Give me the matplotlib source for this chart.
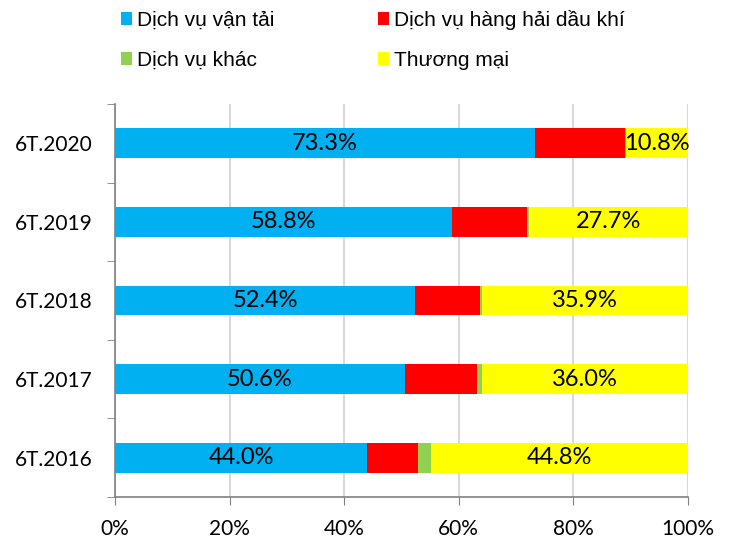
import numpy as np
import matplotlib.pyplot as plt

# Data
periods = ["6T.2016", "6T.2017", "6T.2018", "6T.2019", "6T.2020"]
van_tai = [44.0, 50.6, 52.4, 58.8, 73.3]
hang_hai = [8.8, 12.5, 11.3, 13.1, 15.7]
khac = [2.4, 0.9, 0.4, 0.4, 0.2]
thuong_mai = [44.8, 36.0, 35.9, 27.7, 10.8]

series_names = ["Dịch vụ vận tải", "Dịch vụ hàng hải dầu khí", "Dịch vụ khác", "Thương mại"]
colors = ["#00B0F0", "#FF0000", "#92D050", "#FFFF00"]

fig = plt.figure(figsize=(7.31, 5.43), dpi=100)
ax = fig.add_axes([115/731, 1-497/543, (688-115)/731, (497-104)/543])

y = np.arange(len(periods))
left = np.zeros(len(periods))
bars = []
for vals, name, c in zip([van_tai, hang_hai, khac, thuong_mai], series_names, colors):
    b = ax.barh(y, vals, left=left, height=0.38, color=c, label=name, zorder=3)
    bars.append(b)
    left = left + np.array(vals)

# labels on blue and yellow
for b, vals in [(bars[0], van_tai), (bars[3], thuong_mai)]:
    for rect, v in zip(b, vals):
        ax.text(rect.get_x() + rect.get_width()/2, rect.get_y() + rect.get_height()/2,
                f"{v:.1f}%", ha="center", va="center", fontsize=17, family="Lato", zorder=4)

ax.set_xlim(0, 100)
ax.set_ylim(-0.5, 4.5)
ax.set_xticks(np.arange(0, 101, 20))
ax.set_xticklabels([f"{t}%" for t in range(0, 101, 20)], family="Lato", fontsize=15)
ax.set_yticks(y)
ax.set_yticklabels(periods, family="Lato", fontsize=15)
ax.set_yticks(np.arange(-0.5, 5, 1), minor=True)
ax.tick_params(axis="y", which="major", length=0, pad=16)
ax.tick_params(axis="y", which="minor", length=6, color="#808080")
ax.tick_params(axis="x", length=6, color="#808080", pad=10)
ax.grid(axis="x", color="#D9D9D9", linewidth=1.5, zorder=0)
for s in ["top", "right"]:
    ax.spines[s].set_visible(False)
for s in ["left", "bottom"]:
    ax.spines[s].set_color("#808080")
    ax.spines[s].set_linewidth(1.2)

# legend: row-wise order like the original
h, l = ax.get_legend_handles_labels()
order = [0, 2, 1, 3]
fig.legend([h[i] for i in order], [l[i] for i in order],
           loc="upper left", bbox_to_anchor=(121/731, 1 - 10/543), ncol=2, frameon=False,
           prop={"family": "Liberation Sans", "size": 15}, handlelength=0.53, handleheight=0.53,
           handletextpad=0.24, columnspacing=4.95, labelspacing=1.0,
           borderpad=0, borderaxespad=0)

plt.savefig("out.png", dpi=100)
